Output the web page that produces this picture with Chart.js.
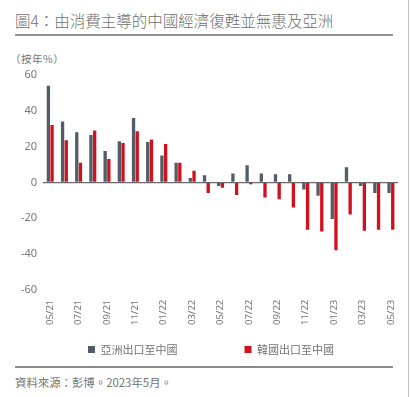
<!DOCTYPE html>
<html>
<head>
<meta charset="utf-8">
<script src="https://cdn.jsdelivr.net/npm/chart.js@4.4.1/dist/chart.umd.min.js"></script>
<style>
  html, body { margin: 0; padding: 0; background: #fff; }
  #wrap { position: relative; width: 410px; height: 397px; overflow: hidden; }
  #edge { position: absolute; left: 408px; top: 0; width: 1px; height: 397px; background: #c2c2c2; }
  .cjk { font-family: "Noto Sans CJK TC", "Noto Sans", sans-serif; color: #737373; position: absolute; white-space: nowrap; }
  #title { left: 15px; top: 9px; width: 378px; height: 25px; font-size: 15.5px; font-weight: 300; color: #6e6e6e;
           border-bottom: 2px solid #929292; }
  #unit { left: 10px; top: 51px; font-size: 10.5px; letter-spacing: 0.5px; }
  #source { left: 15px; top: 366px; width: 378px; padding-top: 6px; font-size: 11.4px;
            border-top: 2px solid #8a8a8a; z-index: 10; }
  #box { position: absolute; left: 0; top: 62px; width: 410px; height: 303px; }
</style>
</head>
<body>
<div id="wrap">
  <div id="title" class="cjk">圖4：由消費主導的中國經濟復甦並無惠及亞洲</div>
  <div id="unit" class="cjk">（按年%）</div>
  <div id="box"><canvas id="chart"></canvas></div>
  <div id="source" class="cjk">資料來源：彭博。2023年5月。</div>
  <div id="edge"></div>
</div>
<script>
// 月份 05/21 - 05/23
var months = ['05/21', '06/21', '07/21', '08/21', '09/21', '10/21', '11/21', '12/21',
              '01/22', '02/22', '03/22', '04/22', '05/22', '06/22', '07/22', '08/22',
              '09/22', '10/22', '11/22', '12/22', '01/23', '02/23', '03/23', '04/23', '05/23'];

// 按年%
var asiaToChina = [54, 34, 28, 26.5, 17.5, 23, 36, 22.5, 15, 11, 2.5, 4, -2,
                   5, 9.5, 5, 4.5, 4.5, -4, -7.5, -20.5, 8.5, -2, -6, -6];
var koreaToChina = [32, 23.5, 11, 29, 13, 22, 28.5, 24, 21.5, 11, 6.5, -6, -3,
                    -7, -1, -8.5, -9.5, -14, -26.5, -27.5, -38, -18, -27, -26.5, -26.5];

var seriesNames = ['亞洲出口至中國', '韓國出口至中國'];
var seriesColors = ['#535d68', '#d3111e'];
var yTicks = [-60, -40, -20, 0, 20, 40, 60];

var LEGEND_GAP = 67;   // space between the two legend items
var LEGEND_TOP = 17;   // space above the legend row

// legend: wide gap between items, one row, without the same gap above it
var legendGap = {
    id: 'legendGap',
    beforeLayout: function (chart) {
        var lg = chart.legend;
        if (!lg || lg._gapPatched) return;
        var fit = lg.fit;
        lg.fit = function () {
            this.maxWidth = 2000;
            fit.call(this);
            this.height += LEGEND_TOP - this.options.labels.padding;
        };
        lg._gapPatched = true;
    },
    afterLayout: function (chart) {
        var lg = chart.legend;
        lg.top -= lg.options.labels.padding - LEGEND_TOP;
        lg.left = 12;
        lg.right = chart.width;
    }
};

var ctx = document.getElementById('chart').getContext('2d');
var chart = new Chart(ctx, {
    type: 'bar',
    data: {
        labels: months,
        datasets: [{
            label: seriesNames[0],
            data: asiaToChina,
            backgroundColor: seriesColors[0]
        }, {
            label: seriesNames[1],
            data: koreaToChina,
            backgroundColor: seriesColors[1]
        }]
    },
    options: {
        responsive: true,
        maintainAspectRatio: false,
        animation: false,
        categoryPercentage: 0.52,
        barPercentage: 0.9,
        layout: { padding: { left: 15, right: 12, top: 13, bottom: 0 } },
        plugins: {
            tooltip: { enabled: false },
            legend: {
                position: 'bottom',
                labels: {
                    boxWidth: 7,
                    boxHeight: 7,
                    padding: LEGEND_GAP,
                    color: '#737373',
                    font: { family: '"Noto Sans CJK TC", sans-serif', size: 11 }
                }
            }
        },
        scales: {
            x: {
                grid: { display: false },
                border: { display: false },
                ticks: {
                    autoSkip: false,
                    minRotation: 90,
                    maxRotation: 90,
                    padding: 2,
                    color: '#777',
                    font: { family: '"Noto Sans", sans-serif', size: 9.5 },
                    callback: function (v, i) { return i % 2 === 0 ? months[i] : ''; }
                }
            },
            y: {
                min: yTicks[0],
                max: yTicks[yTicks.length - 1],
                afterBuildTicks: function (axis) {
                    axis.ticks = yTicks.map(function (v) { return { value: v }; });
                },
                border: { display: false },
                grid: {
                    drawTicks: false,
                    lineWidth: 1.2,
                    color: function (c) { return c.tick && c.tick.value === 0 ? '#6a6a6a' : 'rgba(0,0,0,0)'; }
                },
                ticks: {
                    padding: 6,
                    color: '#777',
                    font: { family: '"Noto Sans", sans-serif', size: 11 }
                }
            }
        }
    },
    plugins: [legendGap]
});
</script>
</body>
</html>
